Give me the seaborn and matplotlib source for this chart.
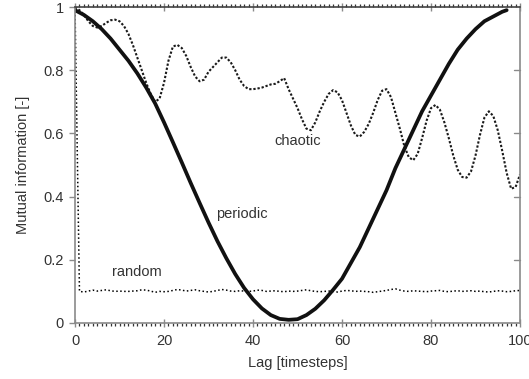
import numpy as np
import pandas as pd
import matplotlib
matplotlib.use("Agg")
import matplotlib.pyplot as plt
from matplotlib.ticker import MultipleLocator
import seaborn as sns

# Lag axis (timesteps)
chaotic_lag = list(range(0, 101))
chaotic_mi = [
    1.00, 0.99, 0.975, 0.955, 0.94, 0.935, 0.94, 0.95, 0.958, 0.96,
    0.955, 0.94, 0.915, 0.88, 0.84, 0.80, 0.76, 0.725, 0.70, 0.71,
    0.76, 0.83, 0.875, 0.88, 0.87, 0.845, 0.81, 0.78, 0.765, 0.77,
    0.795, 0.81, 0.825, 0.84, 0.84, 0.825, 0.80, 0.77, 0.75, 0.74,
    0.74, 0.742, 0.745, 0.75, 0.755, 0.757, 0.765, 0.775, 0.74, 0.71,
    0.68, 0.645, 0.615, 0.61, 0.635, 0.67, 0.70, 0.725, 0.737, 0.73,
    0.705, 0.665, 0.625, 0.595, 0.59, 0.605, 0.63, 0.665, 0.705, 0.735,
    0.74, 0.715, 0.665, 0.615, 0.56, 0.525, 0.515, 0.535, 0.585, 0.64,
    0.68, 0.69, 0.675, 0.635, 0.585, 0.53, 0.485, 0.462, 0.46, 0.48,
    0.53, 0.595, 0.65, 0.67, 0.655, 0.61, 0.545, 0.475, 0.425, 0.43,
    0.47,
]

periodic_lag = list(range(0, 98, 2)) + [97]
periodic_mi = [
    0.99, 0.975, 0.955, 0.93, 0.90, 0.865, 0.83, 0.79, 0.745, 0.695,
    0.635, 0.572, 0.508, 0.443, 0.38, 0.318, 0.259, 0.205, 0.155, 0.111,
    0.075, 0.046, 0.025, 0.013, 0.01, 0.012, 0.025, 0.045, 0.072, 0.105,
    0.14, 0.19, 0.24, 0.30, 0.36, 0.42, 0.49, 0.55, 0.61, 0.67,
    0.72, 0.77, 0.82, 0.865, 0.90, 0.93, 0.955, 0.97, 0.985, 0.99,
]

random_lag = list(range(0, 101))
random_mi = [
    1.00, 0.100, 0.098, 0.101, 0.104, 0.101, 0.103, 0.105, 0.102, 0.100,
    0.101, 0.100, 0.100, 0.101, 0.102, 0.105, 0.104, 0.101, 0.097, 0.100,
    0.099, 0.100, 0.103, 0.106, 0.104, 0.101, 0.103, 0.105, 0.102, 0.100,
    0.098, 0.100, 0.103, 0.106, 0.104, 0.101, 0.100, 0.102, 0.101, 0.100,
    0.101, 0.104, 0.103, 0.100, 0.101, 0.102, 0.100, 0.099, 0.101, 0.100,
    0.101, 0.103, 0.105, 0.102, 0.100, 0.099, 0.100, 0.101, 0.100, 0.098,
    0.101, 0.103, 0.102, 0.100, 0.101, 0.100, 0.099, 0.097, 0.099, 0.101,
    0.103, 0.106, 0.108, 0.104, 0.101, 0.100, 0.102, 0.101, 0.100, 0.099,
    0.101, 0.102, 0.103, 0.100, 0.099, 0.101, 0.102, 0.100, 0.101, 0.102,
    0.100, 0.101, 0.099, 0.098, 0.100, 0.102, 0.101, 0.099, 0.100, 0.102,
    0.103,
]

x_ticks = [0, 20, 40, 60, 80, 100]
y_ticks = [0, 0.2, 0.4, 0.6, 0.8, 1.0]
y_tick_labels = ["0", "0.2", "0.4", "0.6", "0.8", "1"]

sns.set_style("white")
plt.rcParams["font.family"] = ["Liberation Sans", "DejaVu Sans"]

fig = plt.figure(figsize=(5.29, 3.79), dpi=100)
ax = fig.add_axes([0.1418, 0.1478, 0.8412, 0.8337])

sns.lineplot(x=random_lag, y=random_mi, ax=ax, color="black", lw=1.1,
             linestyle=(0, (1, 1.6)), estimator=None, sort=False)
sns.lineplot(x=chaotic_lag, y=chaotic_mi, ax=ax, color="#1a1a1a", lw=1.5,
             linestyle=(0, (1.1, 0.9)), estimator=None, sort=False)
sns.lineplot(x=periodic_lag, y=periodic_mi, ax=ax, color="#111111", lw=2.7,
             estimator=None, sort=False)

ax.set_xlim(0, 100)
ax.set_ylim(0, 1)
ax.set_xticks(x_ticks)
ax.set_yticks(y_ticks)
ax.set_yticklabels(y_tick_labels)
ax.xaxis.set_minor_locator(MultipleLocator(1))

grey = "#8a8a8a"
for side in ["left", "right", "bottom"]:
    ax.spines[side].set_visible(True)
    ax.spines[side].set_color(grey)
    ax.spines[side].set_linewidth(1.2)
ax.spines["top"].set_visible(True)
ax.spines["top"].set_color("#444444")
ax.spines["top"].set_linewidth(1.2)

ax.tick_params(axis="x", which="major", direction="inout", length=6,
               width=1.0, color=grey, labelsize=10.5, labelcolor="#333333",
               top=True, bottom=True, pad=5)
ax.tick_params(axis="x", which="minor", direction="out", length=2.5,
               width=0.9, color="#333333", top=True, bottom=True)
ax.tick_params(axis="y", which="major", direction="out", length=4,
               width=1.0, color=grey, labelsize=10.5, labelcolor="#333333",
               left=True, right=False, pad=4)
for yv in y_ticks[1:-1]:
    ax.plot([98.6, 100], [yv, yv], color=grey, lw=1.0, clip_on=False)

ax.set_xlabel("Lag [timesteps]", fontsize=10.5, color="#333333", labelpad=6)
ax.set_ylabel("Mutual information [-]", fontsize=10.5, color="#333333", labelpad=10)

ax.text(50, 0.575, "chaotic", ha="center", va="center", fontsize=10.5, color="#333333")
ax.text(37.6, 0.345, "periodic", ha="center", va="center", fontsize=10.5, color="#333333")
ax.text(14, 0.161, "random", ha="center", va="center", fontsize=10.5, color="#333333")

fig.savefig("out.png", dpi=100)
